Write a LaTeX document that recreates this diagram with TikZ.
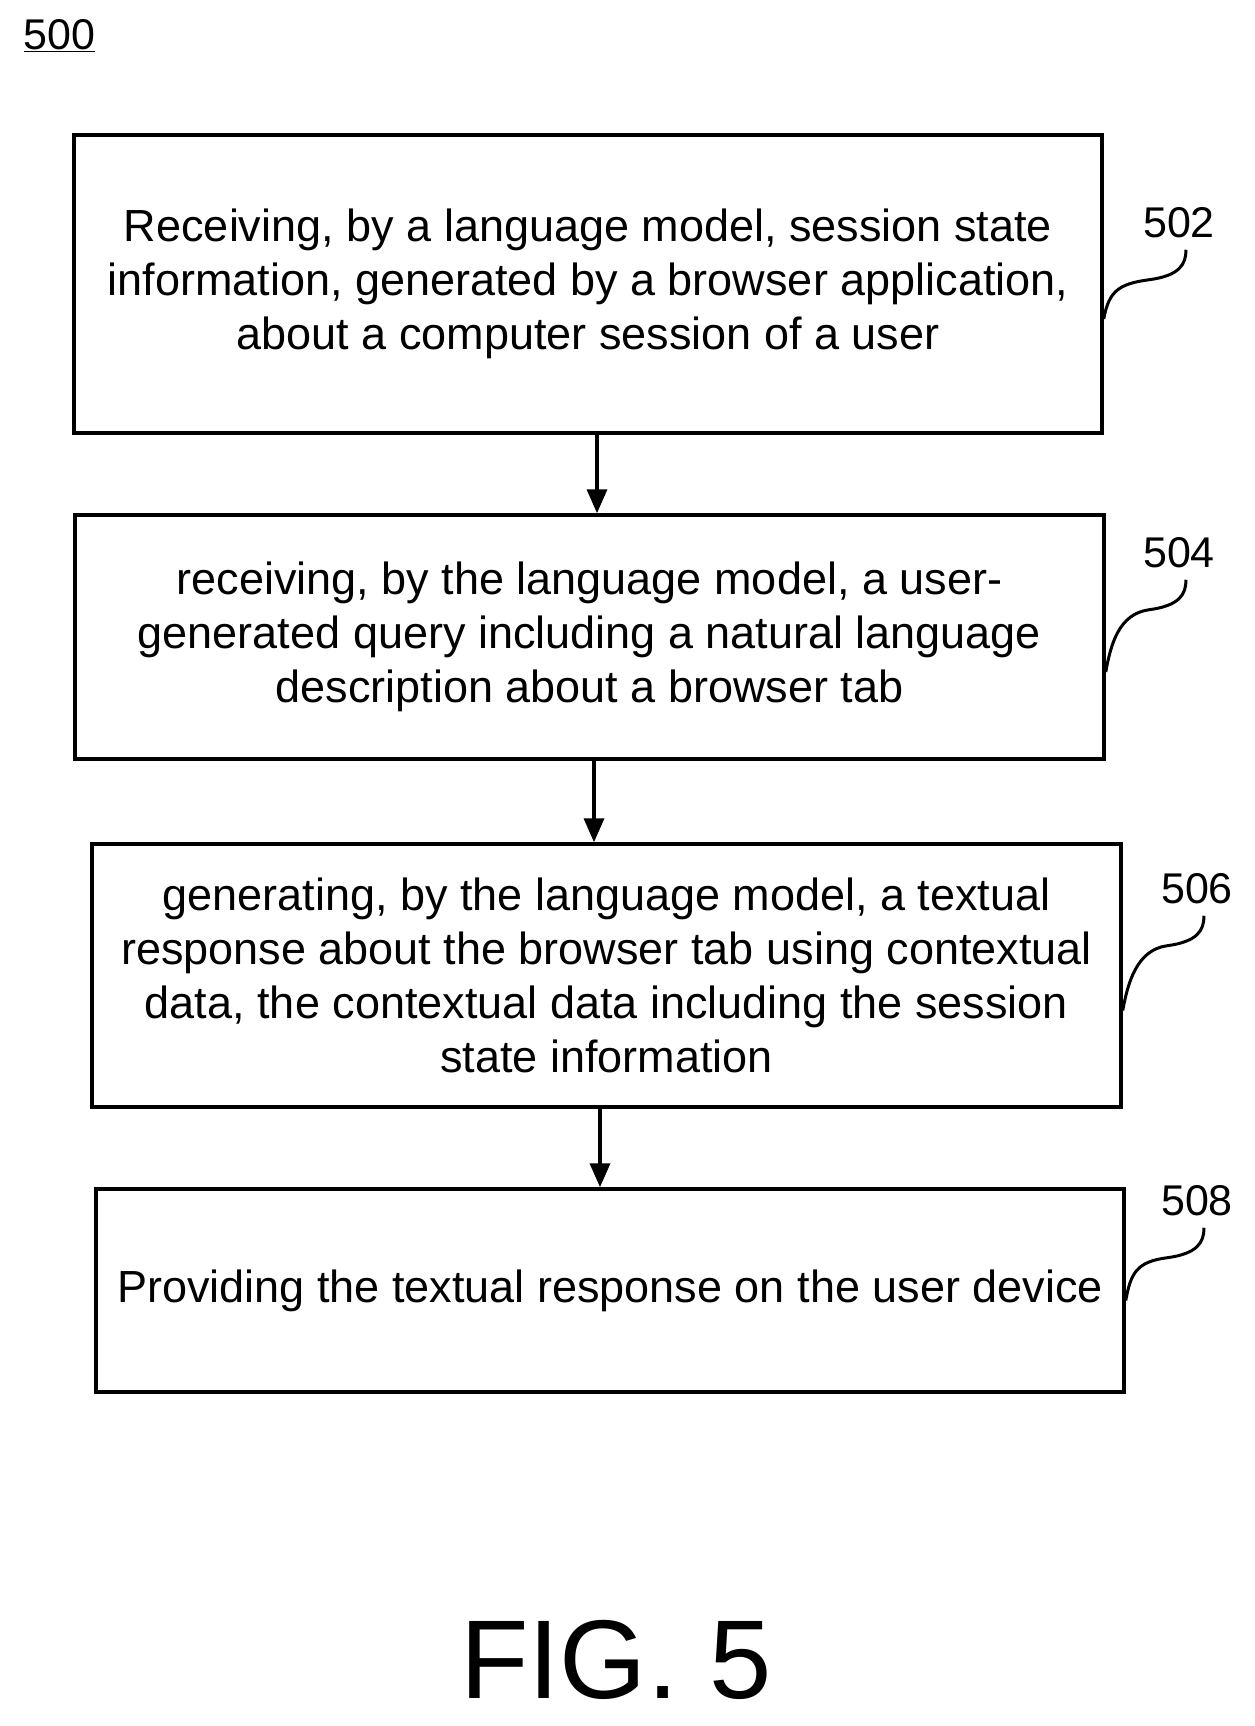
\documentclass[tikz,border=0pt]{standalone}
\usepackage{fontspec}
\setmainfont{Liberation Sans}
\usetikzlibrary{positioning, arrows.meta}
\begin{document}
\begin{tikzpicture}[x=1pt, y=-1pt,
    stepbox/.style={rectangle, draw=black, line width=3.5pt, align=center,
                 font=\fontsize{45}{54}\selectfont, inner sep=0pt},
    arrow/.style={-{Triangle[length=24pt, width=20pt]}, line width=3.5pt},
    lead/.style={line width=3pt},
    ref/.style={font=\fontsize{43}{54}\selectfont}
]
    \useasboundingbox (0,0) rectangle (1254,1726);

    % Figure number
    \node[ref, anchor=west] (fignum) at (20,36) {\underline{500}};

    % Steps
    \node[stepbox, minimum width=1028pt, minimum height=298pt] (s502) at (588,284)
        {Receiving, by a language model, session state\\information, generated by a browser application,\\about a computer session of a user};
    \node[stepbox, minimum width=1029pt, minimum height=244pt] (s504) at (589.5,637)
        {receiving, by the language model, a user-\\generated query including a natural language\\description about a browser tab};
    \node[stepbox, minimum width=1029pt, minimum height=263pt] (s506) at (606.5,975.5)
        {generating, by the language model, a textual\\response about the browser tab using contextual\\data, the contextual data including the session\\state information};
    \node[stepbox, minimum width=1028pt, minimum height=203pt] (s508) at (610,1290.5)
        {Providing the textual response on the user device};

    % Flow
    \draw[arrow] (s502.south -| 597,0) -- (s504.north -| 597,0);
    \draw[arrow] (s504.south -| 594,0) -- (s506.north -| 594,0);
    \draw[arrow] (s506.south -| 600,0) -- (s508.north -| 600,0);

    % Reference numerals
    \node[ref] (n502) at (1179,223) {502};
    \node[ref] (n504) at (1179,553) {504};
    \node[ref] (n506) at (1197,889) {506};
    \node[ref] (n508) at (1197,1201) {508};

    % Leaders
    \foreach \n/\dy in {502/35, 504/35, 506/35, 508/10} {
        \draw[lead] ([shift={(0,\dy)}]s\n.east) .. controls +(5,-28) and +(-30,4) .. ([shift={(-30,38)}]n\n.south)
            .. controls +(30,-4) and +(0,15) .. ([shift={(7,8)}]n\n.south);
    }

    % Caption
    \node[font=\fontsize{112}{112}\selectfont] (caption) at (616,1660) {FIG. 5};
\end{tikzpicture}
\end{document}
